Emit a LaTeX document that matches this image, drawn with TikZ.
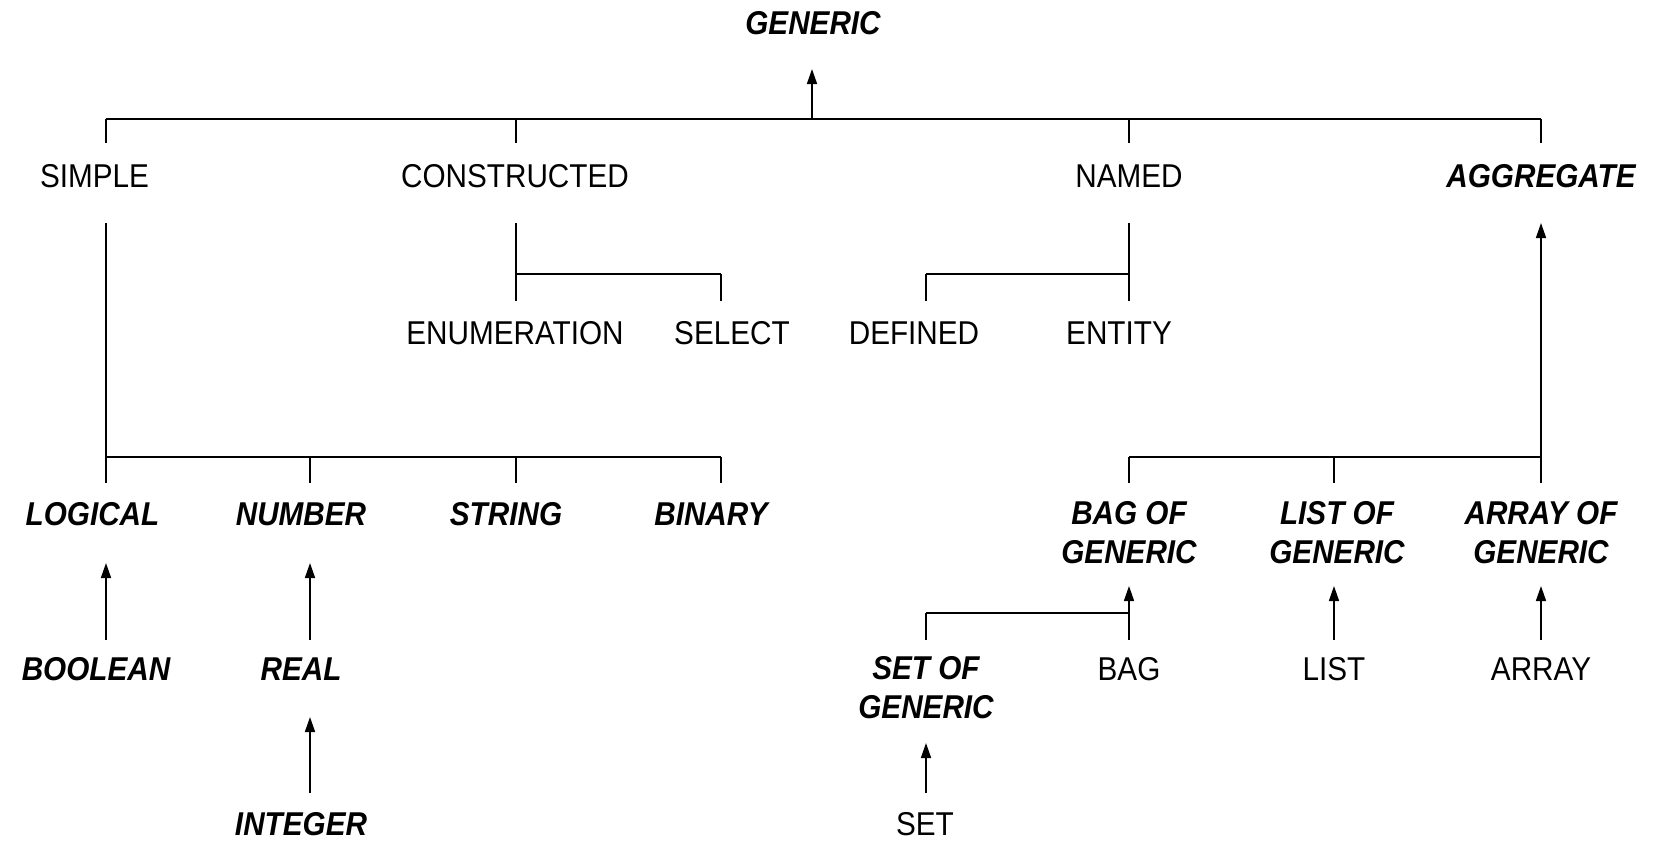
\documentclass[tikz,border=0pt]{standalone}
\usepackage{fontspec}
\setmainfont[FakeStretch=0.9]{Liberation Sans}
\usetikzlibrary{arrows.meta}
\begin{document}
\begin{tikzpicture}[x=1pt,y=-1pt,
  lbl/.style={inner sep=0pt, align=center, font=\fontsize{33}{39}\selectfont},
  bi/.style={inner sep=0pt, align=center, font=\fontsize{33}{39}\selectfont\bfseries\itshape},
  ln/.style={line width=1.6pt},
  hl/.style={line width=2.2pt},
  arr/.style={line width=1.6pt, -{Triangle[length=15pt,width=10pt]}}]
\useasboundingbox (0,0) rectangle (1666,841);
% nodes
\node[bi]  (generic)   at (813,23)   {GENERIC};
\node[lbl] (simple)    at (94.5,176) {SIMPLE};
\node[lbl] (constr)    at (515,176)  {CONSTRUCTED};
\node[lbl] (named)     at (1129,176) {NAMED};
\node[bi]  (aggr)      at (1541,176) {AGGREGATE};
\node[lbl] (enum)      at (515,333)  {ENUMERATION};
\node[lbl] (select)    at (732,333)  {SELECT};
\node[lbl] (defined)   at (914,333)  {DEFINED};
\node[lbl] (entity)    at (1119,333) {ENTITY};
\node[bi]  (logical)   at (92.5,514) {LOGICAL};
\node[bi]  (number)    at (301,514)  {NUMBER};
\node[bi]  (string)    at (506,514)  {STRING};
\node[bi]  (binary)    at (711,514)  {BINARY};
\node[bi]  (bagof)     at (1129,533) {BAG OF\\GENERIC};
\node[bi]  (listof)    at (1337,533) {LIST OF\\GENERIC};
\node[bi]  (arrayof)   at (1541,533) {ARRAY OF\\GENERIC};
\node[bi]  (boolean)   at (96,669)   {BOOLEAN};
\node[bi]  (real)      at (301,669)  {REAL};
\node[bi]  (setof)     at (926,688)  {SET OF\\GENERIC};
\node[lbl] (bag)       at (1129,669) {BAG};
\node[lbl] (list)      at (1334,669) {LIST};
\node[lbl] (array)     at (1541,669) {ARRAY};
\node[bi]  (integer)   at (301,824)  {INTEGER};
\node[lbl] (set)       at (925,824)  {SET};
% coordinates
\coordinate (tL) at (106,119);  \coordinate (tR) at (1541,119);
\coordinate (tG) at (812,119);  \coordinate (gB) at (812,69);
\coordinate (tS) at (106,143);  \coordinate (tC) at (516,143);
\coordinate (tC0) at (516,119); \coordinate (tN0) at (1129,119);
\coordinate (tN) at (1129,143); \coordinate (tA) at (1541,143);
\coordinate (sB) at (106,223);  \coordinate (sJ) at (106,457);
\coordinate (sR) at (721,457);
\coordinate (kN) at (310,457);  \coordinate (kS) at (516,457);
\coordinate (dL) at (106,483);  \coordinate (dN) at (310,483);
\coordinate (dS) at (516,483);  \coordinate (dB) at (721,483);
\coordinate (cB) at (516,223);  \coordinate (cE) at (516,301);
\coordinate (cJ) at (516,274);  \coordinate (cS0) at (721,274);
\coordinate (cS) at (721,301);
\coordinate (nB) at (1129,223); \coordinate (nE) at (1129,301);
\coordinate (nJ) at (1129,274); \coordinate (nD0) at (926,274);
\coordinate (nD) at (926,301);
\coordinate (aT) at (1541,223); \coordinate (aB) at (1541,483);
\coordinate (aJ) at (1541,457); \coordinate (bJ) at (1129,457);
\coordinate (bT) at (1129,483); \coordinate (lJ) at (1334,457);
\coordinate (lT) at (1334,483);
\coordinate (lgT) at (106,563); \coordinate (boB) at (106,640);
\coordinate (nuT) at (310,563); \coordinate (reB) at (310,640);
\coordinate (reT) at (310,717); \coordinate (inB) at (310,793);
\coordinate (bgT) at (1129,586); \coordinate (bgB) at (1129,640);
\coordinate (bgJ) at (1129,613); \coordinate (soJ) at (926,613);
\coordinate (soB) at (926,640);
\coordinate (liT) at (1334,586); \coordinate (liB) at (1334,640);
\coordinate (arT) at (1541,586); \coordinate (arB) at (1541,640);
\coordinate (soT) at (926,743);  \coordinate (seB) at (926,793);
% top level
\draw[hl] (tL) -- (tR);
\draw[arr] (tG) -- (gB);
\draw[ln] (tL) -- (tS);
\draw[ln] (tC0) -- (tC);
\draw[ln] (tN0) -- (tN);
\draw[ln] (tR) -- (tA);
% simple
\draw[ln] (sB) -- (sJ);
\draw[hl] (sJ) -- (sR);
\draw[ln] (sJ) -- (dL);
\draw[ln] (kN) -- (dN);
\draw[ln] (kS) -- (dS);
\draw[ln] (sR) -- (dB);
% constructed
\draw[ln] (cB) -- (cE);
\draw[hl] (cJ) -- (cS0);
\draw[ln] (cS0) -- (cS);
% named
\draw[ln] (nB) -- (nE);
\draw[hl] (nJ) -- (nD0);
\draw[ln] (nD0) -- (nD);
% aggregate
\draw[arr] (aB) -- (aT);
\draw[hl] (bJ) -- (aJ);
\draw[ln] (bJ) -- (bT);
\draw[ln] (lJ) -- (lT);
% lower arrows
\draw[arr] (boB) -- (lgT);
\draw[arr] (reB) -- (nuT);
\draw[arr] (inB) -- (reT);
\draw[arr] (bgB) -- (bgT);
\draw[hl] (soJ) -- (bgJ);
\draw[ln] (soJ) -- (soB);
\draw[arr] (liB) -- (liT);
\draw[arr] (arB) -- (arT);
\draw[arr] (seB) -- (soT);
\end{tikzpicture}
\end{document}
